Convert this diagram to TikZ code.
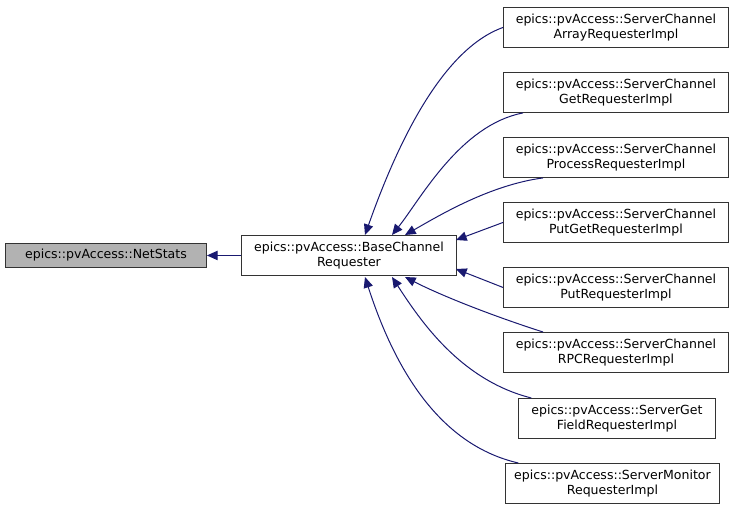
\documentclass[tikz,border=0pt]{standalone}
\usepackage{fontspec}
\setmainfont{DejaVu Sans}
\usetikzlibrary{arrows.meta}
\definecolor{edge}{RGB}{25,25,112}
\begin{document}
\begin{tikzpicture}[x=0.75pt,y=-0.75pt,
 box/.style={draw=black!80,line width=0.7pt,minimum height=30pt,align=center,font=\fontsize{9.4}{11.5}\selectfont,inner sep=0pt,anchor=north west},
 e/.style={edge,line width=0.75pt,-{Triangle[length=8pt,width=7pt]}}]
\useasboundingbox (0,0) rectangle (735,509);
\node[box,fill=black!30,minimum width=150.75pt,minimum height=18pt] (ns) at (5,243) {epics::pvAccess::NetStats};
\node[box,minimum width=161.25pt] (b) at (241,235) {epics::pvAccess::BaseChannel\\Requester};
\node[box,minimum width=168.75pt] (r1) at (503,7) {epics::pvAccess::ServerChannel\\ArrayRequesterImpl};
\node[box,minimum width=168.75pt] (r2) at (503,72) {epics::pvAccess::ServerChannel\\GetRequesterImpl};
\node[box,minimum width=168.75pt] (r3) at (503,137) {epics::pvAccess::ServerChannel\\ProcessRequesterImpl};
\node[box,minimum width=168.75pt] (r4) at (503,202) {epics::pvAccess::ServerChannel\\PutGetRequesterImpl};
\node[box,minimum width=168.75pt] (r5) at (503,267) {epics::pvAccess::ServerChannel\\PutRequesterImpl};
\node[box,minimum width=168.75pt] (r6) at (503,332) {epics::pvAccess::ServerChannel\\RPCRequesterImpl};
\node[box,minimum width=147.75pt] (r7) at (518,398) {epics::pvAccess::ServerGet\\FieldRequesterImpl};
\node[box,minimum width=160.5pt] (r8) at (505,463) {epics::pvAccess::ServerMonitor\\RequesterImpl};
\draw[e] (b.west) -- (ns.east);
\draw[e] (r1.west) .. controls (440,50) and (395,150) .. (365,235);
\draw[e] ([xshift=15pt]r2.south west) .. controls (460,125) and (420,200) .. (392,235);
\draw[e] ([xshift=30pt]r3.south west) .. controls (490,185) and (440,215) .. (405,235);
\draw[e] (r4.west) -- (456,240);
\draw[e] (r5.west) -- (456,269);
\draw[e] ([xshift=30pt]r6.north west) .. controls (490,315) and (440,295) .. (405,277);
\draw[e] ([xshift=10pt]r7.north west) .. controls (460,380) and (420,320) .. (392,277);
\draw[e] ([xshift=10pt]r8.north west) .. controls (440,445) and (395,370) .. (365,277);
\end{tikzpicture}
\end{document}
